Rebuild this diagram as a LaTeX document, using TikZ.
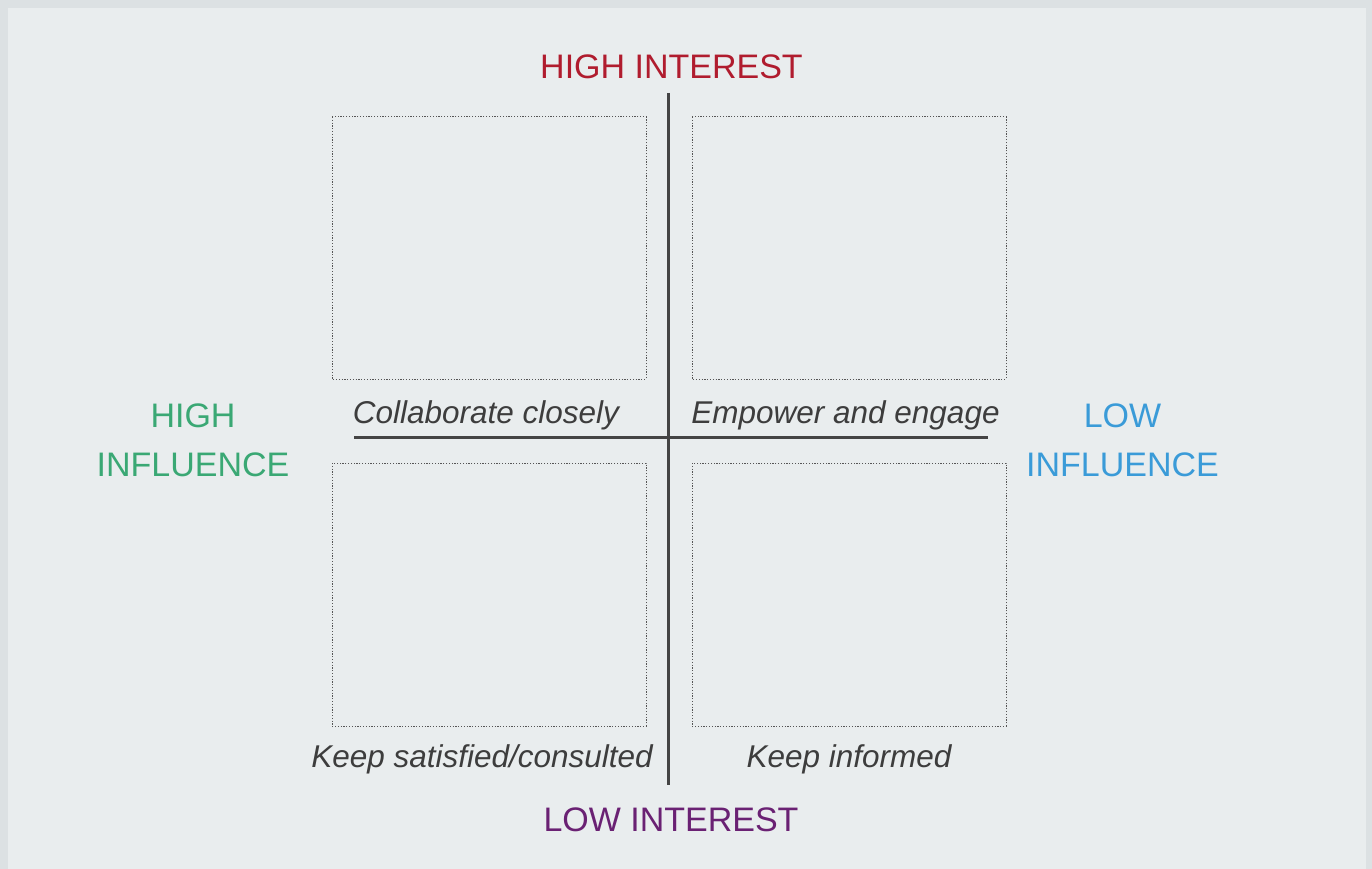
\documentclass[tikz,border=0pt]{standalone}
\usepackage{fontspec}
\setmainfont{Liberation Sans}
\begin{document}
\begin{tikzpicture}[x=1pt,y=-1pt,
  axis/.style={draw=axisgray, line width=3pt},
  quad/.style={draw=dotgray, line width=1pt, dotted, dash pattern=on 1.2pt off 1.6pt},
  head/.style={anchor=base, inner sep=0pt, font=\fontsize{34}{42}\selectfont},
  side/.style={anchor=base, inner sep=0pt, align=center, font=\fontsize{34}{49}\selectfont},
  qlabel/.style={anchor=base, inner sep=0pt, text=textgray, font=\fontsize{31.5}{36}\selectfont\itshape}]
\definecolor{outerbg}{HTML}{DCE1E3}
\definecolor{innerbg}{HTML}{E9EDEE}
\definecolor{axisgray}{HTML}{444444}
\definecolor{dotgray}{HTML}{555555}
\definecolor{textgray}{HTML}{3D3D3D}
\definecolor{hired}{HTML}{B01C2E}
\definecolor{lopurple}{HTML}{6A2173}
\definecolor{higreen}{HTML}{3AA874}
\definecolor{loblue}{HTML}{3A9BD8}
\useasboundingbox (0,0) rectangle (1372,869);
\fill[outerbg] (0,0) rectangle (1372,869);
\fill[innerbg] (8,8) rectangle (1366,869);
% quadrant boxes
\draw[quad] (332,117) rectangle (646,379);
\draw[quad] (692,117) rectangle (1006,379);
\draw[quad] (332,463) rectangle (646,726);
\draw[quad] (692,463) rectangle (1006,726);
% axes
\coordinate (vt) at (668,93);
\coordinate (vb) at (668,785);
\coordinate (hl) at (354,437);
\coordinate (hr) at (988,437);
\draw[axis] (vt) -- (vb);
\draw[axis] (hl) -- (hr);
% headings
\node[head, text=hired] (hi) at (671.5,79) {HIGH INTEREST};
\node[head, text=lopurple] (li) at (671,831) {LOW INTEREST};
\node[side, text=higreen] (hinf) at (193,476) {HIGH\\INFLUENCE};
\node[side, text=loblue] (linf) at (1122.5,476) {LOW\\INFLUENCE};
% quadrant labels
\node[qlabel] (q1) at (486,423) {Collaborate closely};
\node[qlabel] (q2) at (845.5,423) {Empower and engage};
\node[qlabel] (q3) at (482,767) {Keep satisfied/consulted};
\node[qlabel] (q4) at (849,767) {Keep informed};
\end{tikzpicture}
\end{document}
